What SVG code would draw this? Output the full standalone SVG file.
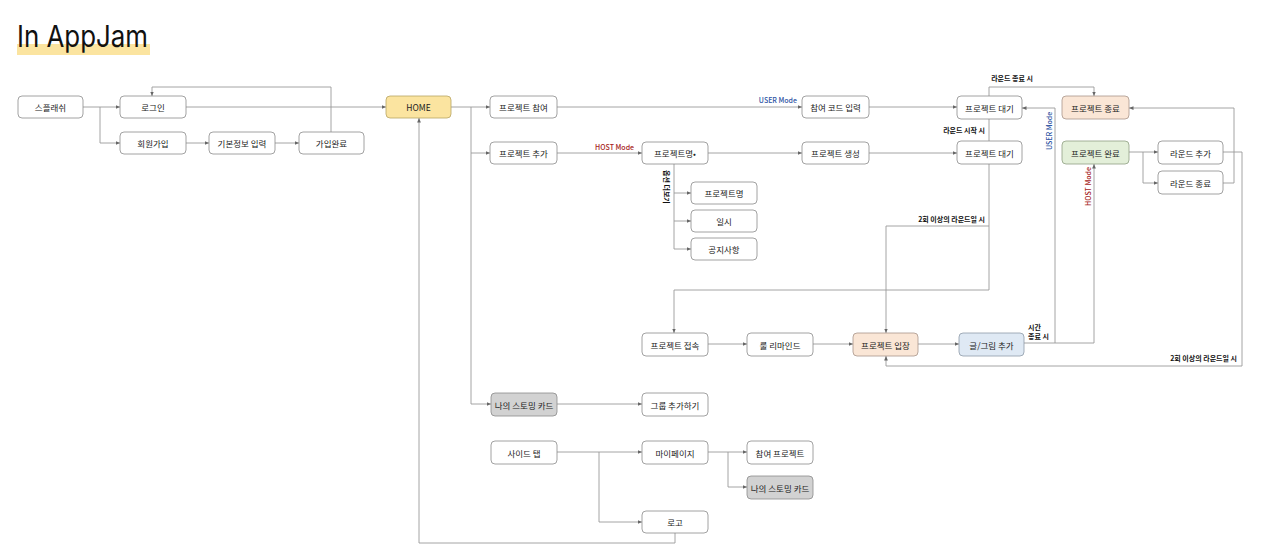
<svg xmlns="http://www.w3.org/2000/svg" width="1280" height="560" viewBox="0 0 1280 560">
<style>
.n rect{fill:#fff;stroke:#8c8c8c;stroke-width:0.8}
.n text{font-family:"Noto Sans CJK KR","Noto Sans",sans-serif;font-size:8.5px;fill:#222;text-anchor:middle;dominant-baseline:central}
.home rect{fill:#fbe4a0;stroke:#b8a463}
.peach rect{fill:#fae6d6;stroke:#a8968a}
.green rect{fill:#e3efd9;stroke:#8fa083}
.blue rect{fill:#dfe9f4;stroke:#8e9aa8}
.gray rect{fill:#d2d2d2;stroke:#8a8a8a}
#connectors path{fill:none;stroke:#9a9a9a;stroke-width:0.9}
.lbl{font-family:"Noto Sans CJK KR","Noto Sans",sans-serif;font-size:7px;font-weight:bold;fill:#111}
.user{fill:#2f55a4;font-weight:500}
.host{fill:#a61c1c;font-weight:500}
</style>
<defs>
<marker id="a" viewBox="0 0 6 6" refX="6" refY="3" markerWidth="5" markerHeight="5" orient="auto"><path d="M0,0.5 L6,3 L0,5.5 Z" fill="#666"/></marker>
</defs>
<rect x="17" y="44" width="133" height="11" fill="#fbe4a0"/>
<text x="17" y="47" font-family="Inter,'Noto Sans',sans-serif" font-size="30" fill="#111" textLength="131" lengthAdjust="spacingAndGlyphs">In AppJam</text>

<g id="connectors">
<path d="M83,107 H120" marker-end="url(#a)"/>
<path d="M100,107 V143 H120" marker-end="url(#a)"/>
<path d="M186,143 H209" marker-end="url(#a)"/>
<path d="M275,143 H299" marker-end="url(#a)"/>
<path d="M331,132 V87 H152 V96" marker-end="url(#a)"/>
<path d="M186,107 H386" marker-end="url(#a)"/>
<path d="M451,107 H490" marker-end="url(#a)"/>
<path d="M471,107 V153 H490" marker-end="url(#a)"/>
<path d="M471,153 V404 H491" marker-end="url(#a)"/>
<path d="M557,107 H802" marker-end="url(#a)"/>
<path d="M869,107 H957" marker-end="url(#a)"/>
<path d="M557,153 H642" marker-end="url(#a)"/>
<path d="M708,153 H802" marker-end="url(#a)"/>
<path d="M869,153 H957" marker-end="url(#a)"/>
<path d="M674,164 V193 H691" marker-end="url(#a)"/>
<path d="M674,193 V221 H691" marker-end="url(#a)"/>
<path d="M674,221 V249 H691" marker-end="url(#a)"/>
<path d="M989,141 V119"/>
<path d="M989,96 V87 H1094 V96" marker-end="url(#a)"/>
<path d="M989,164 V290 H674 V333" marker-end="url(#a)"/>
<path d="M989,226 H886 V333" marker-end="url(#a)"/>
<path d="M708,344 H747" marker-end="url(#a)"/>
<path d="M813,344 H853" marker-end="url(#a)"/>
<path d="M918,344 H959" marker-end="url(#a)"/>
<path d="M1024,343 H1094 V164" marker-end="url(#a)"/>
<path d="M1055,343 V108 H1022" marker-end="url(#a)"/>
<path d="M1129,152 H1158" marker-end="url(#a)"/>
<path d="M1143,152 V183 H1158" marker-end="url(#a)"/>
<path d="M1223,183 H1234 V108 H1129" marker-end="url(#a)"/>
<path d="M1223,152 H1242 V366 H886 V356" marker-end="url(#a)"/>
<path d="M557,404 H642" marker-end="url(#a)"/>
<path d="M557,452 H642" marker-end="url(#a)"/>
<path d="M599,452 V522 H642" marker-end="url(#a)"/>
<path d="M708,452 H747" marker-end="url(#a)"/>
<path d="M728,452 V487 H747" marker-end="url(#a)"/>
<path d="M675,533 V543 H419 V118" marker-end="url(#a)"/>
</g>

<g id="labels">
<text class="lbl user" x="797" y="103" text-anchor="end">USER Mode</text>
<text class="lbl host" x="634" y="150" text-anchor="end">HOST Mode</text>
<text class="lbl" x="1033" y="81" text-anchor="end">라운드 종료 시</text>
<text class="lbl" x="985" y="133" text-anchor="end">라운드 시작 시</text>
<text class="lbl" x="985" y="222" text-anchor="end">2회 이상의 라운드일 시</text>
<text class="lbl" x="1237" y="361" text-anchor="end">2회 이상의 라운드일 시</text>
<text class="lbl" x="1028" y="330">시간</text>
<text class="lbl" x="1028" y="339">종료 시</text>
<text class="lbl user" transform="translate(1052,150) rotate(-90)">USER Mode</text>
<text class="lbl host" transform="translate(1091,206) rotate(-90)">HOST Mode</text>
<text class="lbl" transform="translate(664,170) rotate(90)">옵션 더보기</text>
</g>

<g id="splash" class="n"><rect x="18" y="96" width="65" height="22" rx="4"/><text x="50.5" y="107">스플래쉬</text></g>
<g id="login" class="n"><rect x="120" y="96" width="66" height="22" rx="4"/><text x="153" y="107">로그인</text></g>
<g id="signup" class="n"><rect x="120" y="132" width="66" height="22" rx="4"/><text x="153" y="143">회원가입</text></g>
<g id="basicinfo" class="n"><rect x="209" y="132" width="66" height="22" rx="4"/><text x="242" y="143">기본정보 입력</text></g>
<g id="signupdone" class="n"><rect x="299" y="132" width="65" height="22" rx="4"/><text x="331.5" y="143">가입완료</text></g>
<g id="home" class="n home"><rect x="386" y="96" width="65" height="22" rx="4"/><text x="418.5" y="107">HOME</text></g>
<g id="join" class="n"><rect x="490" y="96" width="67" height="22" rx="4"/><text x="523.5" y="107">프로젝트 참여</text></g>
<g id="add" class="n"><rect x="490" y="142" width="67" height="22" rx="4"/><text x="523.5" y="153">프로젝트 추가</text></g>
<g id="pname" class="n"><rect x="642" y="142" width="66" height="22" rx="4"/><text x="675" y="153">프로젝트명•</text></g>
<g id="opt-name" class="n"><rect x="691" y="182" width="66" height="22" rx="4"/><text x="724" y="193">프로젝트명</text></g>
<g id="opt-date" class="n"><rect x="691" y="210" width="66" height="22" rx="4"/><text x="724" y="221">일시</text></g>
<g id="opt-notice" class="n"><rect x="691" y="238" width="66" height="22" rx="4"/><text x="724" y="249">공지사항</text></g>
<g id="code" class="n"><rect x="802" y="96" width="67" height="22" rx="4"/><text x="835.5" y="107">참여 코드 입력</text></g>
<g id="create" class="n"><rect x="802" y="142" width="67" height="22" rx="4"/><text x="835.5" y="153">프로젝트 생성</text></g>
<g id="wait1" class="n"><rect x="957" y="96" width="65" height="23" rx="4"/><text x="989.5" y="107.5">프로젝트 대기</text></g>
<g id="wait2" class="n"><rect x="957" y="141" width="65" height="23" rx="4"/><text x="989.5" y="152.5">프로젝트 대기</text></g>
<g id="end" class="n peach"><rect x="1062" y="96" width="67" height="23" rx="4"/><text x="1095.5" y="107.5">프로젝트 종료</text></g>
<g id="done" class="n green"><rect x="1062" y="141" width="67" height="23" rx="4"/><text x="1095.5" y="152.5">프로젝트 완료</text></g>
<g id="round-add" class="n"><rect x="1158" y="141" width="65" height="23" rx="4"/><text x="1190.5" y="152.5">라운드 추가</text></g>
<g id="round-end" class="n"><rect x="1158" y="171" width="65" height="23" rx="4"/><text x="1190.5" y="182.5">라운드 종료</text></g>
<g id="connect" class="n"><rect x="642" y="333" width="66" height="23" rx="4"/><text x="675" y="344.5">프로젝트 접속</text></g>
<g id="rule" class="n"><rect x="747" y="333" width="66" height="23" rx="4"/><text x="780" y="344.5">룰 리마인드</text></g>
<g id="enter" class="n peach"><rect x="853" y="333" width="65" height="23" rx="4"/><text x="885.5" y="344.5">프로젝트 입장</text></g>
<g id="write" class="n blue"><rect x="959" y="333" width="65" height="23" rx="4"/><text x="991.5" y="344.5">글/그림 추가</text></g>
<g id="mycard" class="n gray"><rect x="491" y="393" width="66" height="23" rx="4"/><text x="524" y="404.5">나의 스토밍 카드</text></g>
<g id="group" class="n"><rect x="642" y="393" width="66" height="23" rx="4"/><text x="675" y="404.5">그룹 추가하기</text></g>
<g id="sidetab" class="n"><rect x="491" y="441" width="66" height="23" rx="4"/><text x="524" y="452.5">사이드 탭</text></g>
<g id="mypage" class="n"><rect x="642" y="441" width="66" height="23" rx="4"/><text x="675" y="452.5">마이페이지</text></g>
<g id="joined" class="n"><rect x="747" y="441" width="66" height="23" rx="4"/><text x="780" y="452.5">참여 프로젝트</text></g>
<g id="mycard2" class="n gray"><rect x="747" y="476" width="66" height="23" rx="4"/><text x="780" y="487.5">나의 스토밍 카드</text></g>
<g id="logo" class="n"><rect x="642" y="511" width="66" height="22" rx="4"/><text x="675" y="522">로고</text></g>
</svg>
